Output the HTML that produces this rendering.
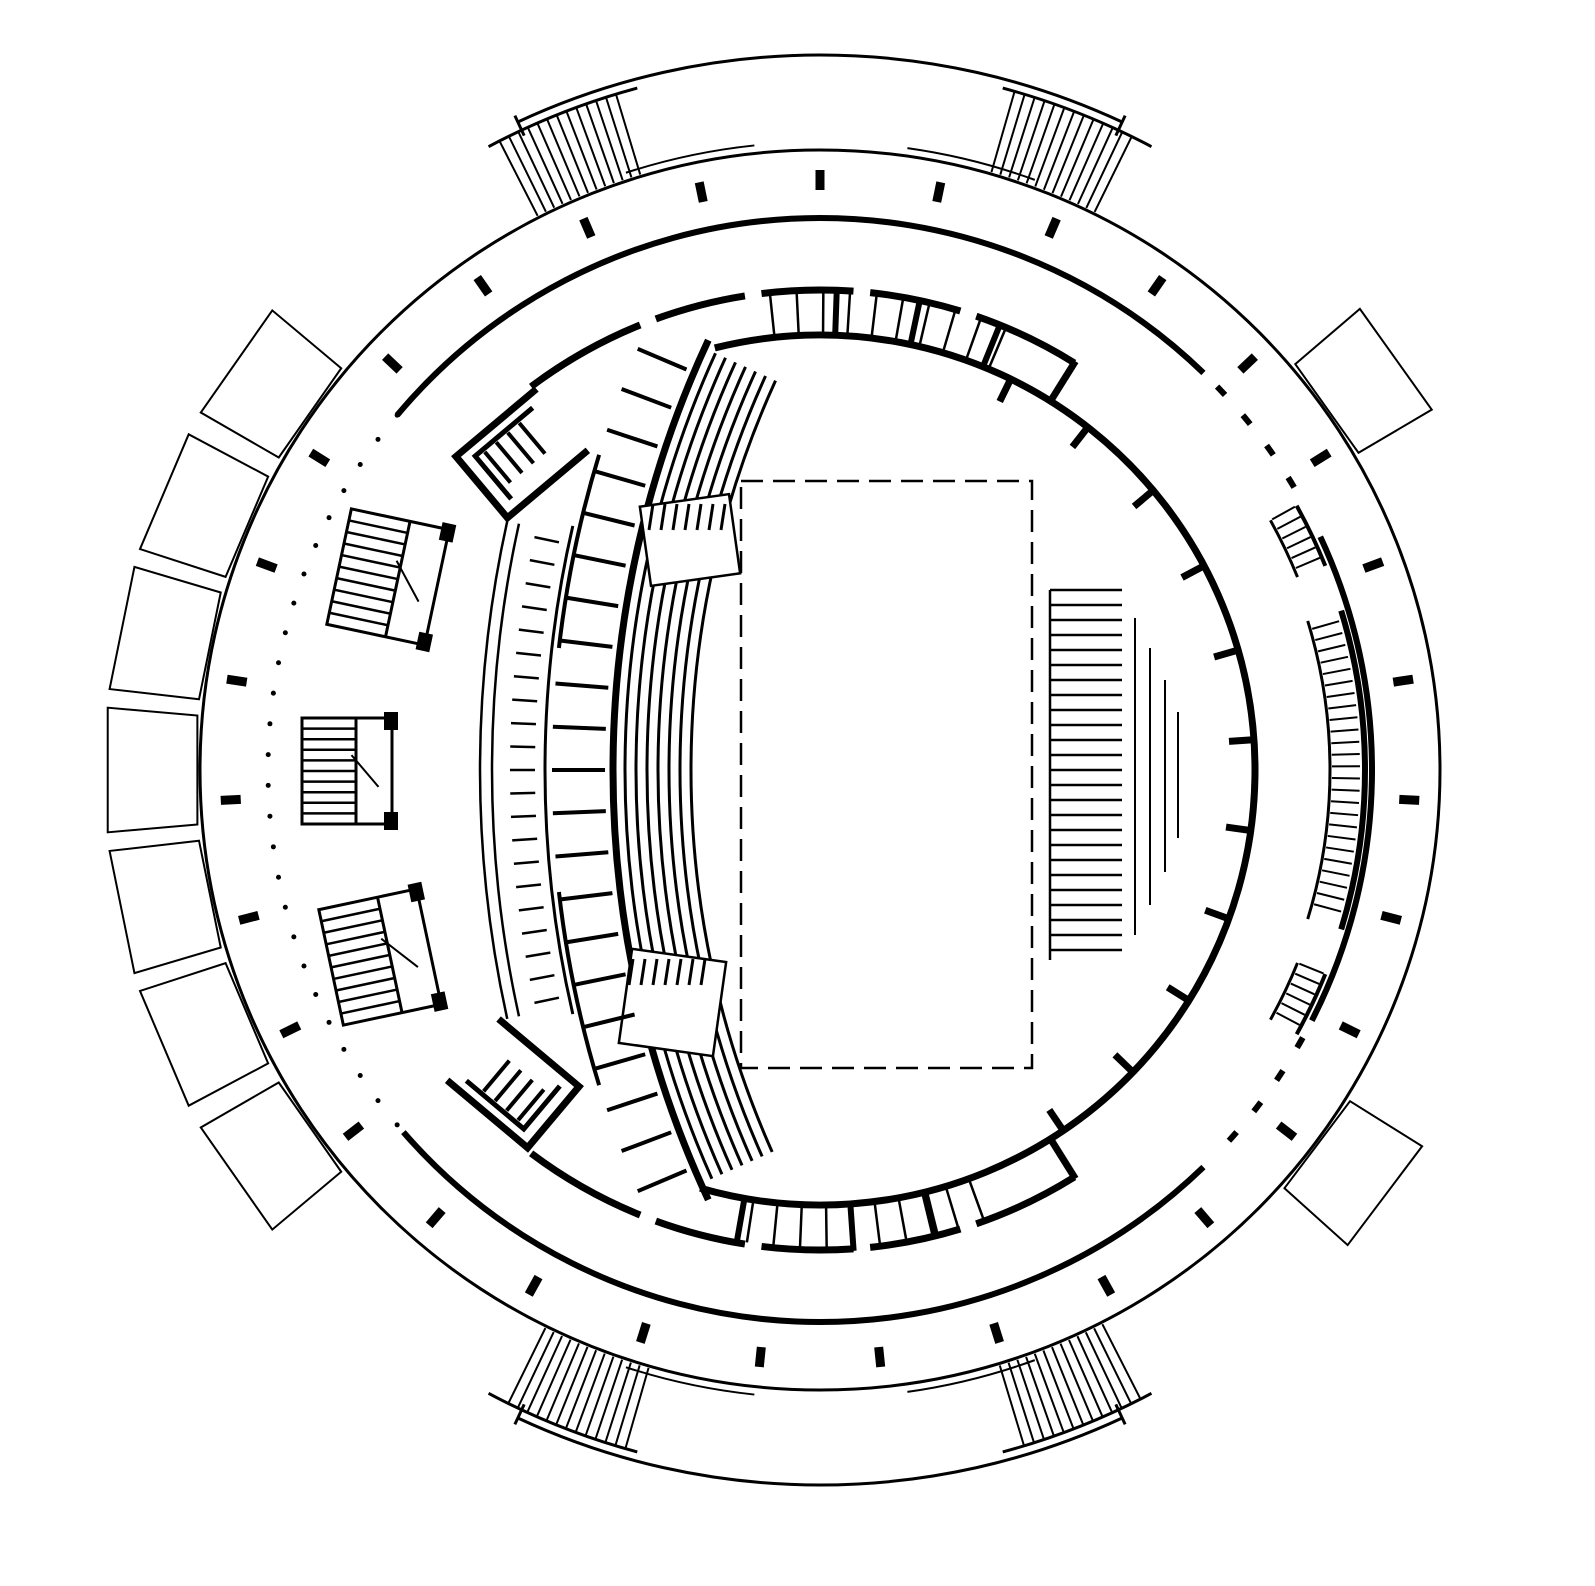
<!DOCTYPE html>
<html><head><meta charset="utf-8"><style>
html,body{margin:0;padding:0;background:#fff;}
svg{display:block;}
</style></head><body>
<svg id="s" width="1595" height="1586" viewBox="0 0 1595 1586" xmlns="http://www.w3.org/2000/svg">
<rect width="1595" height="1586" fill="#fff"/>
<g id="g" fill="none" stroke="#000" stroke-linecap="butt"></g>
</svg>
<script>
var g=document.getElementById('g'),NS='http://www.w3.org/2000/svg';
var CX=820,CY=770;
function el(t,a){var e=document.createElementNS(NS,t);for(var k in a)e.setAttribute(k,a[k]);g.appendChild(e);return e;}
function P(r,a,cx,cy){cx=cx===undefined?CX:cx;cy=cy===undefined?CY:cy;var t=a*Math.PI/180;return [cx+r*Math.cos(t),cy+r*Math.sin(t)];}
function arc(r,a1,a2,sw,cx,cy,extra){var p=P(r,a1,cx,cy),q=P(r,a2,cx,cy);var large=Math.abs(a2-a1)>180?1:0;
var a={d:'M'+p[0]+' '+p[1]+' A'+r+' '+r+' 0 '+large+' 1 '+q[0]+' '+q[1],'stroke-width':sw};if(extra)for(var k in extra)a[k]=extra[k];return el('path',a);}
function rad(r1,r2,a,sw,cx,cy){var p=P(r1,a,cx,cy),q=P(r2,a,cx,cy);return el('line',{x1:p[0],y1:p[1],x2:q[0],y2:q[1],'stroke-width':sw});}
function line(x1,y1,x2,y2,sw){return el('line',{x1:x1,y1:y1,x2:x2,y2:y2,'stroke-width':sw});}
el('circle',{cx:CX,cy:CY,r:620,'stroke-width':3});
arc(715,-115,-65,3);arc(715,65,115,3);
[[-115,-65],[65,115]].forEach(function(s){rad(700,722,s[0],3);rad(700,722,s[1],3);});
arc(628,-108,-96,2);arc(628,-82,-70,2);arc(628,70,82,2);arc(628,96,108,2);
[[-117,-106],[-74,-63],[63,74],[106,117]].forEach(function(s){
 for(var a=s[0];a<=s[1]+0.01;a+=0.85)rad(622,706,a,2);
 arc(706,s[0]-1,s[1]+1,3);
});
for(var i=0;i<31;i++){var a=-90+i*360/31;var p=P(590,a);
 el('rect',{x:-4.5,y:-10,width:9,height:20,fill:'#000',stroke:'none',transform:'translate('+p[0]+','+p[1]+') rotate('+(a+90)+')'});}
arc(552,-140,-46,6);arc(552,-25,27,6);arc(552,46,139,6);
for(var a=-44;a<-28;a+=4)arc(552,a,a+1.2,6);
for(var a=29;a<45;a+=4)arc(552,a,a+1.2,6);
for(var a=140;a<220;a+=3.2){var p=P(552,a);el('circle',{cx:p[0],cy:p[1],r:2.5,fill:'#000',stroke:'none'});}
[145,157,168.5,180,191.5,203,215].forEach(function(a){
 var p1=P(625,a-5),p2=P(715,a-5),p3=P(715,a+5),p4=P(625,a+5);
 el('polygon',{points:[p1,p2,p3,p4].map(function(p){return p.join(',')}).join(' '),'stroke-width':2,fill:'#fff'});});
[-35.5,37].forEach(function(a){
 var p1=P(625,a-5),p2=P(710,a-5),p3=P(710,a+5),p4=P(625,a+5);
 el('polygon',{points:[p1,p2,p3,p4].map(function(p){return p.join(',')}).join(' '),'stroke-width':2,fill:'#fff'});});
arc(510,-17,17,3);arc(545,-17,17,6);
for(var a=-16;a<=16;a+=1.3)rad(512,540,a,2);
[[-29,-22],[22,29]].forEach(function(s){arc(515,s[0],s[1],3);arc(545,s[0],s[1],4);for(var a=s[0];a<=s[1];a+=1.2)rad(517,543,a,2);});
arc(435,-104,106,7);
[-64,-52,-40,-28,-16,-4,8,20,32,44,56].forEach(function(a){rad(410,438,a,7);});
arc(480,-127,-112,7);arc(480,-110,-99,7);arc(480,-97,-86,7);arc(480,-84,-73,7);arc(480,-71,-58,7);
arc(480,58,71,7);arc(480,73,84,7);arc(480,86,97,7);arc(480,99,110,7);arc(480,112,127,7);
for(var a=-96;a<=-66;a+=3.2)rad(438,478,a,2.5);
for(var a=70;a<=100;a+=3.2)rad(438,478,a,2.5);
[-88,-78,-68,76,86,100].forEach(function(a){rad(438,482,a,6);});
rad(435,482,-58,7);rad(435,482,58,7);
var SX=1630,SY=770;
arc(1017,155,205,7,SX,SY);
for(var r=1005;r>=935;r-=11)arc(r,156,204.5,3,SX,SY);
[[645,500,90,80,-8],[625,955,95,95,8]].forEach(function(b){el('rect',{x:b[0],y:b[1],width:b[2],height:b[3],'stroke-width':2.5,fill:'#fff',transform:'rotate('+b[4]+' '+(b[0]+b[2]/2)+' '+(b[1]+b[3]/2)+')'});
 for(var k=0;k<7;k++)line(b[0]+8+k*12,b[1]+4,b[0]+4+k*12,b[1]+30,3);});
for(var a=157;a<=203.5;a+=2.3)rad(1025,1078,a,4,SX,SY);
arc(1078,163,173.5,4,SX,SY);arc(1078,186.5,197,4,SX,SY);
arc(1150,167.5,192.5,2.5,SX,SY);arc(1138,167.5,192.5,2.5,SX,SY);
arc(1085,167,193,3,SX,SY);
for(var a=168;a<=192;a+=1.2)rad(1095,1120,a,2.5,SX,SY);
function abox(cx,cy,rot){var gr=el('g',{transform:'translate('+cx+','+cy+') rotate('+rot+')'});
 var r=document.createElementNS(NS,'path');r.setAttribute('d','M55,-40 L-50,-40 L-50,40 L55,40');r.setAttribute('stroke-width','7');gr.appendChild(r);
 var r2=document.createElementNS(NS,'path');r2.setAttribute('d','M40,-28 L-35,-28 L-35,28');r2.setAttribute('stroke-width','5');gr.appendChild(r2);
 for(var k=0;k<4;k++){var l=document.createElementNS(NS,'line');l.setAttribute('x1',-25+k*15);l.setAttribute('y1',-25);l.setAttribute('x2',-25+k*15);l.setAttribute('y2',15);l.setAttribute('stroke-width','4');gr.appendChild(l);}
}
abox(520,455,-40);abox(515,1085,220);
function sbox(x,y,w,h,rot){var gr=el('g',{transform:'rotate('+rot+' '+(x+w/2)+' '+(y+h/2)+')'});
 function add(t,a){var e=document.createElementNS(NS,t);for(var k in a)e.setAttribute(k,a[k]);gr.appendChild(e);}
 add('rect',{x:x,y:y,width:w,height:h,'stroke-width':3});
 add('line',{x1:x+w*0.6,y1:y,x2:x+w*0.6,y2:y+h,'stroke-width':3});
 for(var k=1;k<10;k++){add('line',{x1:x,y1:y+k*h/10,x2:x+w*0.6,y2:y+k*h/10,'stroke-width':2.5});}
 add('line',{x1:x+w*0.55,y1:y+h*0.35,x2:x+w*0.85,y2:y+h*0.65,'stroke-width':2});
 add('rect',{x:x+w-8,y:y-6,width:14,height:18,fill:'#000',stroke:'none'});
 add('rect',{x:x+w-8,y:y+h-12,width:14,height:18,fill:'#000',stroke:'none'});
}
sbox(338,518,100,118,12);sbox(302,718,90,106,0);sbox(330,898,100,118,-12);
el('rect',{x:741,y:481,width:291,height:587,'stroke-width':2.5,'stroke-dasharray':'22 10'});
for(var y=590;y<=960;y+=15)line(1050,y,1122,y,2.5);
line(1050,590,1050,960,2.5);
line(1135,618,1135,935,2);line(1150,648,1150,905,2);line(1165,680,1165,872,2);line(1178,712,1178,838,2);
</script>
</body></html>
